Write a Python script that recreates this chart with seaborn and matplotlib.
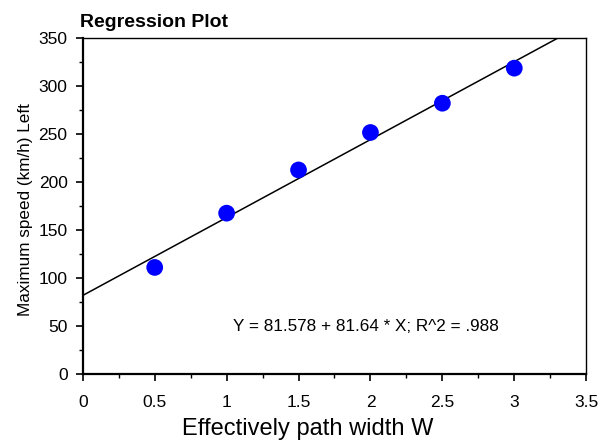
import matplotlib
matplotlib.use("Agg")
import matplotlib.pyplot as plt
from matplotlib.ticker import MultipleLocator
import seaborn as sns
import pandas as pd

width_w = [0.5, 1.0, 1.5, 2.0, 2.5, 3.0]
max_speed = [111, 167.5, 212.5, 251.5, 282, 318.5]
x_ticks = [0, 0.5, 1, 1.5, 2, 2.5, 3, 3.5]
y_ticks = [0, 50, 100, 150, 200, 250, 300, 350]

df = pd.DataFrame({"x": width_w, "y": max_speed})

sns.set_style("white")
plt.rcParams['font.family'] = ['Liberation Sans', 'DejaVu Sans']
plt.rcParams['text.color'] = 'black'
plt.rcParams['axes.labelcolor'] = 'black'
plt.rcParams['xtick.color'] = 'black'
plt.rcParams['ytick.color'] = 'black'

fig = plt.figure(figsize=(6, 4.46), dpi=100)
ax = fig.add_axes([0.138, 0.1614, 0.839, 0.7536])
ax.set_xlim(0, 3.5)
ax.set_ylim(0, 350)

sns.regplot(data=df, x="x", y="y", ax=ax, ci=None, truncate=False,
            scatter_kws=dict(s=145, color="#0000ff", alpha=1, edgecolor="none", zorder=3),
            line_kws=dict(color="black", lw=1.1, zorder=2))

ax.set_xlim(0, 3.5)
ax.set_ylim(0, 350)
ax.set_xticks(x_ticks)
ax.set_xticklabels([("%g" % t) for t in x_ticks])
ax.set_yticks(y_ticks)
ax.xaxis.set_minor_locator(MultipleLocator(0.25))
ax.yaxis.set_minor_locator(MultipleLocator(25))
ax.tick_params(which="major", direction="out", length=5, width=1.2, labelsize=12.5,
               bottom=True, left=True, top=False, right=False,
               colors="black", labelcolor="black")
ax.tick_params(axis="x", which="major", pad=10)
ax.tick_params(axis="y", which="major", pad=6)
ax.tick_params(which="minor", direction="out", length=3, width=1,
               bottom=True, left=True, top=False, right=False)

for s in ["left", "bottom"]:
    ax.spines[s].set_linewidth(1.6)
    ax.spines[s].set_color("black")
for s in ["top", "right"]:
    ax.spines[s].set_linewidth(1.0)
    ax.spines[s].set_color("black")

ax.set_xlabel("Effectively path width W", fontsize=17, labelpad=6)
ax.xaxis.label.set_x(0.446)
ax.set_ylabel("Maximum speed (km/h) Left", fontsize=12.3, labelpad=4)
ax.yaxis.label.set_y(0.49)
ax.set_title("Regression Plot", fontsize=14, fontweight="bold", loc="left", pad=8, x=-0.005)

ax.text(1.97, 49, "Y = 81.578 + 81.64 * X; R^2 = .988", fontsize=12.3,
        ha="center", va="center")

fig.savefig("out.png", dpi=100)
